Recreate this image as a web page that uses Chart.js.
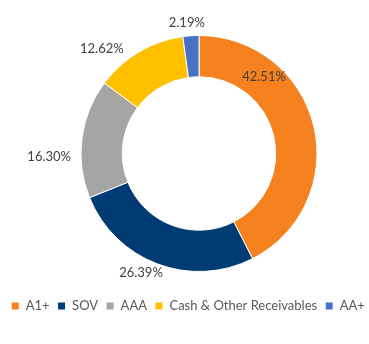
<!DOCTYPE html>
<html>
<head>
<meta charset="utf-8">
<script src="https://cdn.jsdelivr.net/npm/chart.js@4.4.1/dist/chart.umd.min.js"></script>
<style>
  html, body { margin: 0; padding: 0; background: #fff; }
  #wrap { width: 369px; height: 344px; position: relative; }
</style>
</head>
<body>
<div id="wrap"><canvas id="ratingChart"></canvas></div>
<script>
var categories = ['A1+', 'SOV', 'AAA', 'Cash & Other Receivables', 'AA+'];
var shares = [42.51, 26.39, 16.30, 12.62, 2.19];
var colors = ['#F5821F', '#003B74', '#A5A5A5', '#FFC000', '#4472C4'];

// where each % label sits: shift from the slice middle (degrees) and distance (x outer radius)
var labelShift = [-36.1, 5.4, -8.7, -12.3, -1.4];
var labelDist = [0.85, 1.125, 1.27, 1.21, 1.11];

var pctLabels = {
    id: 'pctLabels',
    afterDatasetsDraw: function (chart) {
        var ctx = chart.ctx;
        var meta = chart.getDatasetMeta(0);
        ctx.save();
        ctx.font = '13px Lato';
        ctx.fillStyle = '#404040';
        ctx.textAlign = 'center';
        ctx.textBaseline = 'middle';
        meta.data.forEach(function (arc, i) {
            var mid = (arc.startAngle + arc.endAngle) / 2 + labelShift[i] * Math.PI / 180;
            var r = arc.outerRadius * labelDist[i];
            ctx.fillText(shares[i].toFixed(2) + '%', arc.x + r * Math.cos(mid), arc.y + r * Math.sin(mid));
        });
        ctx.restore();
    }
};

// keep the legend on one row (it is wider than the padded area)
// and move the ring right of the legend's centre
var shiftBoxes = {
    id: 'shiftBoxes',
    beforeUpdate: function (chart) {
        var legend = chart.legend;
        if (legend && !legend._wide) {
            var update = legend.update;
            legend.update = function (w, h, m) { return update.call(this, w + 60, h, m); };
            legend._wide = true;
        }
    },
    afterLayout: function (chart) {
        chart.chartArea.left += 29;
        chart.legend.left += 3.5 - 30;
        chart.legend.right += 3.5 + 30;
    }
};

new Chart(document.getElementById('ratingChart'), {
    type: 'doughnut',
    data: {
        labels: categories,
        datasets: [{
            data: shares,
            backgroundColor: colors,
            borderColor: '#ffffff',
            borderWidth: 1
        }]
    },
    options: {
        responsive: true,
        maintainAspectRatio: false,
        animation: false,
        cutout: '65%',
        layout: { padding: { top: 35, left: 2, right: 2, bottom: 21.5 } },
        plugins: {
            tooltip: { enabled: false },
            legend: {
                position: 'bottom',
                title: { display: true, text: '', padding: { top: 18.5, bottom: 0 }, font: { size: 1, lineHeight: 1 } },
                labels: {
                    boxWidth: 8,
                    boxHeight: 8,
                    padding: 8,
                    color: '#595959',
                    font: { family: 'Lato', size: 13 }
                }
            }
        }
    },
    plugins: [pctLabels, shiftBoxes]
});
</script>
</body>
</html>
